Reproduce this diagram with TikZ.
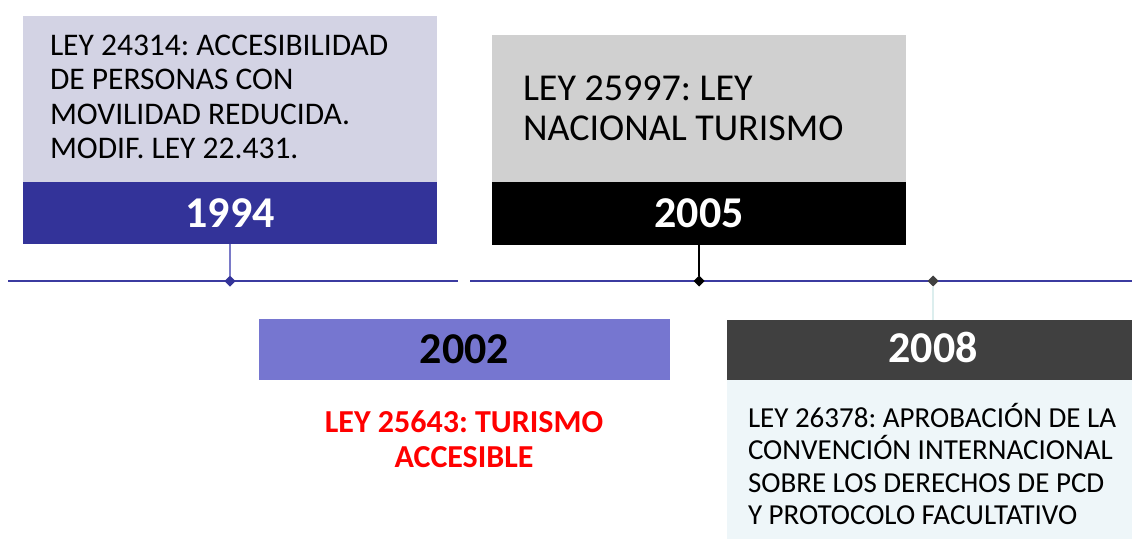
\documentclass[tikz,border=0pt]{standalone}
\usepackage{fontspec}
\setmainfont{Carlito}
\usetikzlibrary{shapes.geometric}
\definecolor{lav}{HTML}{D3D3E4}
\definecolor{navy}{HTML}{333399}
\definecolor{gry}{HTML}{D0D0D0}
\definecolor{mid}{HTML}{7676D0}
\definecolor{dgry}{HTML}{404040}
\definecolor{pale}{HTML}{EEF6F9}
\definecolor{tline}{HTML}{3B3BA0}
\definecolor{conn}{HTML}{7A7AC8}
\definecolor{conn2}{HTML}{DCEEEE}
\frenchspacing
\tikzset{
  panel/.style={inner sep=0pt, outer sep=0pt, anchor=north west, draw=none},
  yearlbl/.style={font=\fontsize{44}{50}\selectfont\bfseries},
  body/.style={inner sep=0pt, outer sep=0pt, anchor=north west, align=left},
  marker/.style={diamond, inner sep=0pt, minimum size=11pt, outer sep=0pt},
}
\begin{document}
\begin{tikzpicture}[x=1pt,y=-1pt]
\useasboundingbox[fill=white] (0,0) rectangle (1132,539);
% timeline
\coordinate (tlA) at (8,281);
\coordinate (tlB) at (458,281);
\coordinate (tlC) at (470,281);
\coordinate (tlD) at (1132,281);
\draw[tline, line width=2.2pt] (tlA) -- (tlB);
\draw[tline, line width=2.2pt] (tlC) -- (tlD);
% 1994
\node[panel, fill=lav, minimum width=414pt, minimum height=166pt] (top1994) at (23,16) {};
\node[panel, fill=navy, minimum width=414pt, minimum height=62pt, text=white, yearlbl, anchor=north] (band1994) at (230,182) {1994};
\node[body, font=\fontsize{31.5}{34.5}\selectfont] (txt1994) at (50,32) {\rule{0pt}{23pt}LEY 24314: ACCESIBILIDAD\\DE PERSONAS CON\\MOVILIDAD REDUCIDA.\\MODIF. LEY 22.431.};
\node[marker, fill=navy] (m1994) at (230,281) {};
\draw[conn, line width=1.5pt] (band1994.south) -- (m1994.north);
% 2005
\node[panel, fill=gry, minimum width=414pt, minimum height=147pt] (top2005) at (492,35) {};
\node[panel, fill=black, minimum width=414pt, minimum height=63pt, text=white, yearlbl, anchor=north] (band2005) at (699,182) {2005};
\node[body, font=\fontsize{38}{40}\selectfont] (txt2005) at (523,71) {\rule{0pt}{29pt}LEY 25997: LEY\\NACIONAL TURISMO};
\node[marker, fill=black] (m2005) at (699,281) {};
\draw[black, line width=1.5pt] (band2005.south) -- (m2005.north);
% 2002
\node[panel, fill=mid, minimum width=411pt, minimum height=61pt, text=black, yearlbl, anchor=north] (band2002) at (464.5,319) {2002};
\node[inner sep=0pt, align=center, text=red, font=\fontsize{32}{35}\selectfont\bfseries, anchor=north] (txt2002) at (464,406) {\rule{0pt}{26pt}LEY 25643: TURISMO\\ACCESIBLE};
% 2008
\node[marker, fill=dgry] (m2008) at (933,281) {};
\node[panel, fill=dgry, minimum width=405pt, minimum height=60pt, anchor=north west] (band2008) at (727,320) {};
\node[text=white, yearlbl, inner sep=0pt] (yr2008) at (933,347) {2008};
\node[panel, fill=pale, minimum width=405pt, minimum height=159pt] (low2008) at (727,380) {};
\draw[conn2, line width=1.2pt] (m2008.south) -- (m2008.south |- band2008.north);
\node[body, font=\fontsize{29}{32.5}\selectfont] (txt2008) at (748,403) {\rule{0pt}{24pt}LEY 26378: APROBACIÓN DE LA\\CONVENCIÓN INTERNACIONAL\\SOBRE LOS DERECHOS DE PCD\\Y PROTOCOLO FACULTATIVO};
\end{tikzpicture}
\end{document}
